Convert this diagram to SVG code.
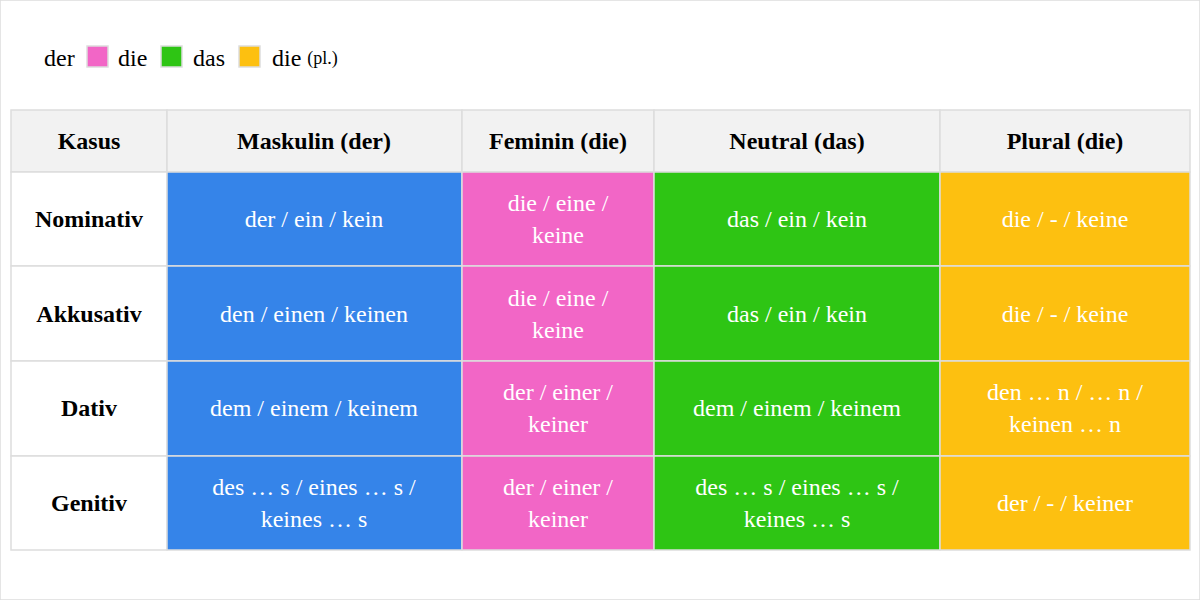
<svg xmlns="http://www.w3.org/2000/svg" width="1200" height="600" viewBox="0 0 1200 600">
<style>
text{font-family:"Liberation Serif","Times New Roman",serif;font-size:24px;text-anchor:middle;dominant-baseline:central}
.h{font-weight:bold;fill:#000}
.c{fill:#fff}
.l{text-anchor:start;fill:#000}
rect{stroke:#dddddd;stroke-width:1.5}
.b{fill:#3584e9}.p{fill:#f266c6}.g{fill:#2ec514}.o{fill:#fdc010}.w{fill:#fff}.hd{fill:#f2f2f2}
</style>
<rect width="1200" height="600" fill="#fff" stroke="none"/>
<g id="legend">
<text class="l" x="44" y="58">der</text><rect x="87" y="46" width="21" height="21" fill="#f266c6" stroke="none"/>
<text class="l" x="118" y="58">die</text><rect x="161" y="46" width="21" height="21" fill="#2ec514" stroke="none"/>
<text class="l" x="193" y="58">das</text><rect x="239" y="46" width="21" height="21" fill="#fdc010" stroke="none"/>
<text class="l" x="272" y="58">die <tspan font-size="18">(pl.)</tspan></text>
</g>
<g id="header">
<rect class="hd" x="11" y="110" width="156" height="62"/><text class="h" x="89" y="141">Kasus</text>
<rect class="hd" x="167" y="110" width="295" height="62"/><text class="h" x="314" y="141">Maskulin (der)</text>
<rect class="hd" x="462" y="110" width="192" height="62"/><text class="h" x="558" y="141">Feminin (die)</text>
<rect class="hd" x="654" y="110" width="286" height="62"/><text class="h" x="797" y="141">Neutral (das)</text>
<rect class="hd" x="940" y="110" width="250" height="62"/><text class="h" x="1065" y="141">Plural (die)</text>
</g>
<g id="row-nominativ">
<rect class="w" x="11" y="172" width="156" height="94"/><text class="h" x="89" y="219">Nominativ</text>
<rect class="b" x="167" y="172" width="295" height="94"/><text class="c" x="314" y="219">der / ein / kein</text>
<rect class="p" x="462" y="172" width="192" height="94"/><text class="c" x="558" y="203">die / eine /</text><text class="c" x="558" y="235">keine</text>
<rect class="g" x="654" y="172" width="286" height="94"/><text class="c" x="797" y="219">das / ein / kein</text>
<rect class="o" x="940" y="172" width="250" height="94"/><text class="c" x="1065" y="219">die / - / keine</text>
</g>
<g id="row-akkusativ">
<rect class="w" x="11" y="266" width="156" height="95"/><text class="h" x="89" y="314">Akkusativ</text>
<rect class="b" x="167" y="266" width="295" height="95"/><text class="c" x="314" y="314">den / einen / keinen</text>
<rect class="p" x="462" y="266" width="192" height="95"/><text class="c" x="558" y="298">die / eine /</text><text class="c" x="558" y="330">keine</text>
<rect class="g" x="654" y="266" width="286" height="95"/><text class="c" x="797" y="314">das / ein / kein</text>
<rect class="o" x="940" y="266" width="250" height="95"/><text class="c" x="1065" y="314">die / - / keine</text>
</g>
<g id="row-dativ">
<rect class="w" x="11" y="361" width="156" height="95"/><text class="h" x="89" y="408">Dativ</text>
<rect class="b" x="167" y="361" width="295" height="95"/><text class="c" x="314" y="408">dem / einem / keinem</text>
<rect class="p" x="462" y="361" width="192" height="95"/><text class="c" x="558" y="392">der / einer /</text><text class="c" x="558" y="424">keiner</text>
<rect class="g" x="654" y="361" width="286" height="95"/><text class="c" x="797" y="408">dem / einem / keinem</text>
<rect class="o" x="940" y="361" width="250" height="95"/><text class="c" x="1065" y="392">den … n / … n /</text><text class="c" x="1065" y="424">keinen … n</text>
</g>
<g id="row-genitiv">
<rect class="w" x="11" y="456" width="156" height="94"/><text class="h" x="89" y="503">Genitiv</text>
<rect class="b" x="167" y="456" width="295" height="94"/><text class="c" x="314" y="487">des … s / eines … s /</text><text class="c" x="314" y="519">keines … s</text>
<rect class="p" x="462" y="456" width="192" height="94"/><text class="c" x="558" y="487">der / einer /</text><text class="c" x="558" y="519">keiner</text>
<rect class="g" x="654" y="456" width="286" height="94"/><text class="c" x="797" y="487">des … s / eines … s /</text><text class="c" x="797" y="519">keines … s</text>
<rect class="o" x="940" y="456" width="250" height="94"/><text class="c" x="1065" y="503">der / - / keiner</text>
</g>
</svg>
